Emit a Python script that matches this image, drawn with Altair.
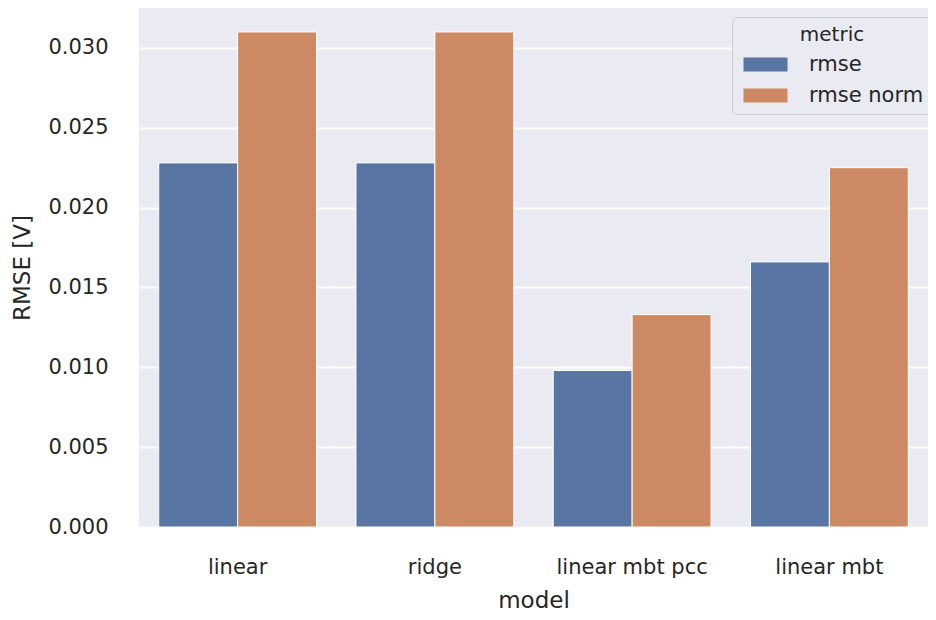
import altair as alt
import pandas as pd

models = ["linear", "ridge", "linear mbt pcc", "linear mbt"]
metrics = ["rmse", "rmse norm"]
rmse = [0.0228, 0.0228, 0.0098, 0.0166]
rmse_norm = [0.0310, 0.0310, 0.0133, 0.0225]
y_ticks = [0.0, 0.005, 0.010, 0.015, 0.020, 0.025, 0.030]
colors = ["#5975A4", "#CC8963"]

rows = []
for i, m in enumerate(models):
    rows.append({"model": m, "metric": metrics[0], "value": rmse[i]})
    rows.append({"model": m, "metric": metrics[1], "value": rmse_norm[i]})
df = pd.DataFrame(rows)

FONT = "DejaVu Sans"
TXT = "#262626"

chart = alt.Chart(df).mark_bar(stroke="white", strokeWidth=1).encode(
    x=alt.X(
        "model:N", sort=models, title="model",
        scale=alt.Scale(paddingInner=0.2, paddingOuter=0.1),
        axis=alt.Axis(labelAngle=0, ticks=False, tickSize=0, domain=False, grid=False,
                      labelPadding=40, labelBaseline="middle", labelFontSize=21,
                      labelFont=FONT, labelColor=TXT, titleFont=FONT, titleFontSize=23,
                      titleColor=TXT, titleFontWeight="normal", titleY=73,
                      titleBaseline="middle"),
    ),
    xOffset=alt.XOffset("metric:N", sort=metrics),
    y=alt.Y(
        "value:Q", title="RMSE [V]",
        scale=alt.Scale(domain=[0, 0.0325], nice=False, zero=True),
        axis=alt.Axis(values=y_ticks, format=".3f", ticks=False, tickSize=0, domain=False,
                      grid=True, gridColor="white", gridWidth=2, labelPadding=31,
                      labelFontSize=21, labelFont=FONT, labelColor=TXT, titleFont=FONT,
                      titleFontSize=23, titleColor=TXT, titleFontWeight="normal",
                      titleX=-117, titleY=259.5, titleBaseline="middle", titleAngle=270),
    ),
    color=alt.Color(
        "metric:N", sort=metrics, title="metric",
        scale=alt.Scale(domain=metrics, range=colors),
        legend=alt.Legend(orient="none", legendX=593, legendY=9,
                          symbolType="M-1,-1H5.286V1H-1Z", symbolSize=196,
                          symbolStrokeWidth=0, symbolOpacity=1,
                          labelOffset=48, labelFontSize=21, labelFont=FONT, labelColor=TXT,
                          titleFontSize=20, titleFont=FONT, titleColor=TXT,
                          titleFontWeight="normal", titleAnchor="middle", titleAlign="center",
                          titlePadding=9, rowPadding=9, padding=8,
                          fillColor="#EAEAF2", strokeColor="#CCCCCC", cornerRadius=5),
    ),
).properties(
    width=789, height=519,
    autosize=alt.AutoSizeParams(type="none"),
    padding={"left": 131, "top": 0, "right": 0, "bottom": 85},
    background="white",
).configure_view(fill="#EAEAF2", strokeWidth=0)

chart.save("out.html", embed_options={"renderer": "svg", "actions": False})
